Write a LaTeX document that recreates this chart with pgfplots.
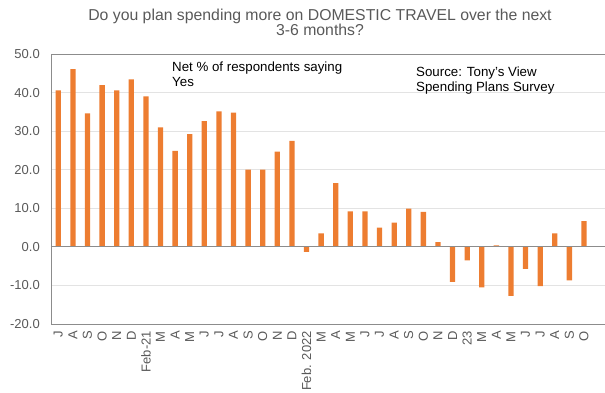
\documentclass[border=0pt]{standalone}
\usepackage{pgfplots}
\pgfplotsset{compat=1.18}
\usepackage{fontspec}
\setmainfont{Liberation Sans}
\definecolor{barc}{HTML}{ED7D31}
\definecolor{txt}{HTML}{595959}
\definecolor{gridc}{HTML}{E3E3E3}
\definecolor{framec}{HTML}{8C8C8C}
\begin{document}
\begin{tikzpicture}
\useasboundingbox (-51pt,-68pt) rectangle (554pt,324pt);
\begin{axis}[at={(0pt,0pt)}, anchor=south west, scale only axis,
  width=554pt, height=270pt,
  xmin=-0.5, xmax=37.44, ymin=-20, ymax=50,
  ytick={-20,-10,...,50},
  /pgf/number format/assume math mode=true,
  /pgf/number format/fixed, /pgf/number format/fixed zerofill, /pgf/number format/precision=1,
  ymajorgrids, grid style={gridc, line width=0.8pt},
  axis line style={framec, line width=0.9pt},
  major tick length=0pt,
  xtick={0,...,36},
  xticklabels={J,A,S,O,N,D,Feb-21,M,A,M,J,J,A,S,O,N,D,Feb. 2022,M,A,M,J,J,A,S,O,N,D,23,M,A,M,J,J,A,S,O},
  xticklabel style={rotate=90, anchor=east, font=\fontsize{13}{13}\selectfont, text=txt, inner sep=0pt},
  xticklabel shift=7pt,
  yticklabel style={font=\fontsize{13}{13}\selectfont, text=txt, inner sep=0pt},
  yticklabel shift=11pt,
  ybar, bar width=5.3pt,
]
\addplot[fill=barc, draw=none] coordinates {
(0,40.6) (1,46.1) (2,34.6) (3,41.9) (4,40.6) (5,43.4) (6,39.0) (7,31.0) (8,24.9)
(9,29.2) (10,32.6) (11,35.1) (12,34.8) (13,20.0) (14,20.0) (15,24.7) (16,27.5)
(17,-1.3) (18,3.5) (19,16.5) (20,9.2) (21,9.2) (22,5.0) (23,6.3) (24,9.9) (25,9.1)
(26,1.2) (27,-9.1) (28,-3.5) (29,-10.5) (30,0.4) (31,-12.7) (32,-5.7) (33,-10.2)
(34,3.5) (35,-8.7) (36,6.7)
};
\draw[framec, line width=1pt] (axis cs:-0.5,0) -- (axis cs:37.44,0);
\end{axis}
\node[anchor=base, text=txt, font=\fontsize{15.8}{15.8}\selectfont, inner sep=0pt] at (269pt,304pt) {Do you plan spending more on DOMESTIC TRAVEL over the next};
\node[anchor=base, text=txt, font=\fontsize{15.8}{15.8}\selectfont, inner sep=0pt] at (269pt,289pt) {3-6 months?};
\node[anchor=base west, font=\fontsize{13.3}{13.3}\selectfont, inner sep=0pt] at (121pt,253pt) {Net \% of respondents saying};
\node[anchor=base west, font=\fontsize{13.3}{13.3}\selectfont, inner sep=0pt] at (121pt,238pt) {Yes};
\node[anchor=base west, font=\fontsize{13.3}{13.3}\selectfont, inner sep=0pt] at (365pt,248pt) {Source: Tony's View};
\node[anchor=base west, font=\fontsize{13.3}{13.3}\selectfont, inner sep=0pt] at (365pt,232.5pt) {Spending Plans Survey};
\end{tikzpicture}
\end{document}
